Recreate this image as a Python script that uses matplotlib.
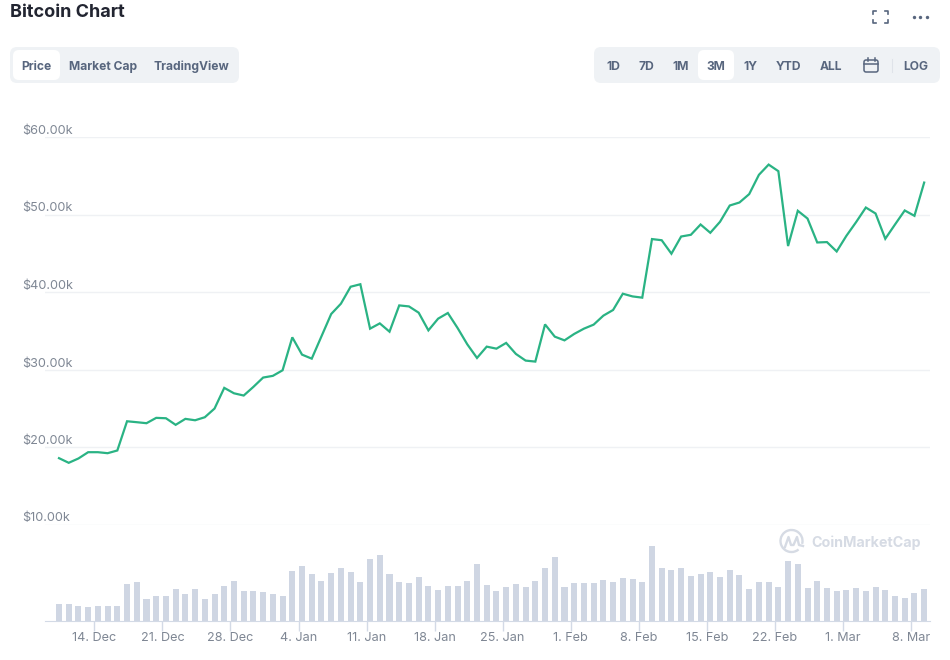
import numpy as np
import pandas as pd
import matplotlib
matplotlib.use('Agg')
import matplotlib.dates as mdates
import matplotlib.pyplot as plt
from matplotlib.patches import FancyBboxPatch, Arc
from matplotlib.ticker import FuncFormatter

plt.rcParams['font.family'] = ['Inter', 'DejaVu Sans']

# daily close in $k
price = [18.56, 17.96, 18.52, 19.33, 19.33, 19.20, 19.55, 23.32, 23.20, 23.07,
         23.76, 23.71, 22.86, 23.63, 23.45, 23.84, 24.96, 27.63, 26.93, 26.64,
         27.76, 28.96, 29.18, 29.90, 34.15, 31.92, 31.40, 34.28, 37.16, 38.49,
         40.68, 41.00, 35.27, 35.95, 34.88, 38.27, 38.14, 37.33, 35.05, 36.56,
         37.29, 35.36, 33.25, 31.49, 32.95, 32.69, 33.43, 32.01, 31.15, 31.02,
         35.82, 34.24, 33.76, 34.59, 35.27, 35.79, 36.95, 37.68, 39.78, 39.43,
         39.27, 46.83, 46.68, 44.94, 47.16, 47.38, 48.71, 47.64, 49.06, 51.16,
         51.55, 52.63, 55.12, 56.44, 55.59, 45.93, 50.48, 49.48, 46.39, 46.44,
         45.23, 47.25, 49.02, 50.90, 50.13, 46.87, 48.71, 50.52, 49.83, 54.12]

# volume bars, no axis in the picture so the unit is arbitrary
volume = [17.3, 17.3, 15.3, 14.3, 15.3, 15.3, 15.3, 37.3, 39.3, 22.3,
          25.3, 25.3, 32.3, 27.3, 32.3, 22.3, 27.3, 35.3, 40.3, 30.3,
          30.3, 29.3, 27.3, 25.3, 50.3, 55.3, 47.3, 40.3, 48.3, 53.3,
          49.3, 39.3, 62.3, 66.3, 47.3, 39.3, 38.3, 44.3, 35.3, 31.3,
          35.3, 35.3, 40.3, 57.3, 36.3, 30.3, 34.3, 37.3, 34.3, 40.3,
          53.3, 64.3, 34.3, 38.3, 38.3, 38.3, 41.3, 39.3, 43.3, 42.3,
          39.3, 75.3, 53.3, 51.3, 53.3, 45.3, 47.3, 49.3, 44.3, 51.3,
          46.3, 32.3, 39.3, 39.3, 34.3, 60.3, 57.3, 33.3, 40.3, 33.3,
          30.3, 31.3, 33.3, 30.3, 34.3, 31.3, 25.3, 23.3, 28.3, 32.3]

price_ticks = [10, 20, 30, 40, 50, 60]
left_tabs = ['Price', 'Market Cap', 'TradingView']
range_tabs = ['1D', '7D', '1M', '3M', '1Y', 'YTD', 'ALL', 'LOG']

dates = pd.date_range('2020-12-10 08:40', periods=len(price), freq='D')

W, H = 950, 660
GREEN = '#2ab384'
GRID = '#eff1f4'
AXIS = '#d3dae6'
LABEL = '#7f8794'
TAB = '#58667e'
TAB_BG = '#eff2f5'
WATERMARK = '#d6dbe4'

fig = plt.figure(figsize=(W / 100, H / 100), dpi=100, facecolor='white')


def px_axes(x0, y0, x1, y1):
    """Axes from a box in image pixels (y going down)."""
    return fig.add_axes([x0 / W, 1 - y1 / H, (x1 - x0) / W, (y1 - y0) / H])


ax_price = px_axes(45, 137, 930, 524.5)
ax_vol = px_axes(45, 525, 930, 621.3)
ax_vol.sharex(ax_price)

ax_price.plot(dates, price, color=GREEN, lw=1.6, solid_joinstyle='miter', zorder=3)
ax_price.set_ylim(10, 60)
ax_price.set_yticks(price_ticks)
ax_price.yaxis.set_major_formatter(FuncFormatter(lambda v, p: '$%.2fk' % v))
ax_price.grid(axis='y', color=GRID, lw=1)
ax_price.set_axisbelow(True)
ax_price.tick_params(axis='y', length=0, pad=16.5, labelsize=9.1, labelcolor=LABEL)
ax_price.tick_params(axis='x', length=0, labelbottom=False)
for label in ax_price.get_yticklabels():
    label.set_ha('left')
    label.set_va('bottom')
for spine in ax_price.spines.values():
    spine.set_visible(False)
ax_price.patch.set_alpha(0)

ax_vol.bar(dates, volume, width=0.62, color='#cfd6e3')
ax_vol.set_ylim(0, 96.3)
ax_vol.set_yticks([])
ax_vol.set_xlim(mdates.date2num(dates[0]) - 1.44, mdates.date2num(dates[-1]) + 0.6)
ax_vol.xaxis.set_major_locator(mdates.WeekdayLocator(byweekday=mdates.MO))
ax_vol.xaxis.set_major_formatter(mdates.DateFormatter('%-d. %b'))
ax_vol.tick_params(axis='x', length=7, width=1, color=AXIS, pad=1,
                   labelsize=9.1, labelcolor=LABEL)
for name in ['top', 'left', 'right']:
    ax_vol.spines[name].set_visible(False)
ax_vol.spines['bottom'].set_color(AXIS)
ax_vol.patch.set_alpha(0)

# page furniture around the chart, drawn in image pixels
ui = fig.add_axes([0, 0, 1, 1], zorder=5)
ui.set_xlim(0, W)
ui.set_ylim(H, 0)
ui.axis('off')


def pill(x0, y0, x1, y1, color, radius=7):
    ui.add_patch(FancyBboxPatch((x0 + radius, y0 + radius), x1 - x0 - 2 * radius,
                                y1 - y0 - 2 * radius,
                                boxstyle='round,pad=%d,rounding_size=%d' % (radius, radius),
                                fc=color, ec='none'))


ui.text(10, 17, 'Bitcoin Chart', fontsize=13, fontweight='bold', color='#222531',
        ha='left', va='baseline')

pill(10, 47, 239, 83, TAB_BG)
pill(13, 50, 60, 80, 'white', 6)
for name, x in zip(left_tabs, [36.5, 103, 191]):
    ui.text(x, 70, name, fontsize=8.7, fontweight='bold', color=TAB,
            ha='center', va='baseline')

pill(594, 47, 940, 83, TAB_BG)
pill(698, 50, 734, 80, 'white', 6)
for name, x in zip(range_tabs, [613, 646, 680.5, 716, 750.5, 788, 830.5, 916]):
    ui.text(x, 70, name, fontsize=8.7, fontweight='bold', color=TAB,
            ha='center', va='baseline')
ui.plot([891.5, 891.5], [59, 72], color='#dfe3e9', lw=0.8)

# calendar icon
pill(864, 60, 878, 72, 'none', 2)
ui.patches[-1].set(ec=TAB, lw=1.1)
ui.plot([864, 878], [64, 64], color=TAB, lw=1.1)
ui.plot([867.5, 867.5], [58, 61], color=TAB, lw=1.1)
ui.plot([874.5, 874.5], [58, 61], color=TAB, lw=1.1)

# fullscreen corners and the three dots
for cx, sx in [(873, 1), (887.5, -1)]:
    for cy, sy in [(10.5, 1), (23, -1)]:
        ui.plot([cx + 3 * sx, cx, cx], [cy, cy, cy + 3 * sy], color=TAB, lw=1.2)
ui.scatter([913.5, 920, 926.5], [17, 17, 17], s=6, color=TAB, linewidths=0)

# watermark
ui.add_patch(Arc((791.5, 541), 22, 22, theta1=50, theta2=15, color=WATERMARK, lw=1.7))
ui.plot([785, 788.5, 791, 793.5, 797, 799, 803],
        [547, 537, 545, 545, 537, 545, 546],
        color=WATERMARK, lw=1.7)
ui.text(811.5, 547, 'CoinMarketCap', fontsize=10.3, fontweight='bold', color=WATERMARK,
        ha='left', va='baseline')

fig.savefig('out.png', dpi=100)
